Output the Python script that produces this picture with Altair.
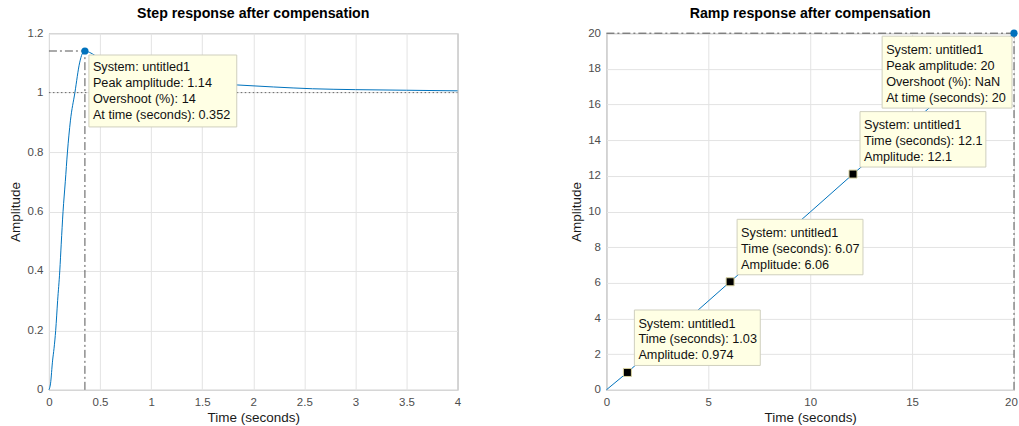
import altair as alt
import pandas as pd

FONT = "Liberation Sans"
BLUE = "#0072BD"
DASHDOT = [8, 3, 2, 3]

# ---------------- data ----------------
step_t = [0, 0.015, 0.036, 0.05, 0.066, 0.085, 0.106, 0.12, 0.138, 0.16, 0.181, 0.21,
          0.254, 0.30, 0.325, 0.352, 0.40, 0.45, 0.55, 0.7, 0.9, 1.1, 1.4, 1.83, 2.2,
          2.58, 3.0, 3.5, 4.0]
step_y = [0, 0.02, 0.10, 0.14, 0.20, 0.30, 0.40, 0.49, 0.60, 0.70, 0.80, 0.905,
          1.0, 1.10, 1.13, 1.14, 1.135, 1.125, 1.10, 1.07, 1.05, 1.04, 1.032, 1.026, 1.019,
          1.013, 1.010, 1.008, 1.006]

ramp_t = [0, 1.03, 2, 4, 6.07, 8, 10, 12.1, 14, 16, 18, 20]
ramp_y = [0, 0.974, 1.97, 3.97, 6.06, 7.97, 9.97, 12.1, 13.97, 15.97, 17.97, 20]

step_peak_t = [0.352]
step_peak_y = [1.14]
step_peak_text = ["System: untitled1\nPeak amplitude: 1.14\nOvershoot (%): 14\nAt time (seconds): 0.352"]
step_final = [1.0]

ramp_peak_t = [20]
ramp_peak_y = [20]
ramp_peak_text = ["System: untitled1\nPeak amplitude: 20\nOvershoot (%): NaN\nAt time (seconds): 20"]

tip_t = [1.03, 6.07, 12.1]
tip_y = [0.974, 6.06, 12.1]
tip_text = [
    "System: untitled1\nTime (seconds): 1.03\nAmplitude: 0.974",
    "System: untitled1\nTime (seconds): 6.07\nAmplitude: 6.06",
    "System: untitled1\nTime (seconds): 12.1\nAmplitude: 12.1",
]

step_xticks = [0, 0.5, 1, 1.5, 2, 2.5, 3, 3.5, 4]
step_yticks = [0, 0.2, 0.4, 0.6, 0.8, 1, 1.2]
ramp_xticks = [0, 5, 10, 15, 20]
ramp_yticks = [0, 2, 4, 6, 8, 10, 12, 14, 16, 18, 20]

# ---------------- helpers ----------------
def xaxis(vals, edge=None):
    kw = {}
    if edge is not None:
        kw["labelAlign"] = alt.condition(f"datum.value == {edge}", alt.value("right"), alt.value("center"))
        kw["labelOffset"] = alt.condition(f"datum.value == {edge}", alt.value(3.3), alt.value(0))
    return alt.Axis(values=vals, format="~g", title="Time (seconds)", grid=True,
                    ticks=False, domain=False, labelPadding=7, labelOverlap=False,
                    labelFlush=False, tickCount=len(vals),
                    titleY=31.5, titleBaseline="alphabetic", **kw)

def yaxis(vals, tx):
    return alt.Axis(values=vals, format="~g", title="Amplitude", grid=True,
                    ticks=False, domain=False, labelPadding=6, labelOverlap=False,
                    labelFlush=False, tickCount=len(vals),
                    titleX=tx, titleY=178.5, titleBaseline="alphabetic", titleAngle=270)

H = 357

def ttl(s):
    return alt.TitleParams(s, anchor="middle", frame="group", baseline="alphabetic",
                           offset=-5, fontSize=14.2, fontWeight="bold", font=FONT,
                           color="#000000")

def tiptext(dx, dy):
    return dict(font=FONT, fontSize=12.7, color="#111111", align="left", baseline="top",
                lineBreak="\n", lineHeight=16, dx=dx, dy=dy)

BOX = dict(fill="#FFFFE4", stroke="#CFCFBE", strokeWidth=1)

# ---------------- step chart ----------------
sdf = pd.DataFrame({"t": step_t, "y": step_y})
sxs = alt.Scale(domain=[0, 4], nice=False)
sys_ = alt.Scale(domain=[0, 1.2], nice=False)
sx = alt.X("t:Q", scale=sxs, axis=xaxis(step_xticks))
sy = alt.Y("y:Q", scale=sys_, axis=yaxis(step_yticks, -29))

step_line = alt.Chart(sdf).mark_line(color=BLUE, strokeWidth=1, interpolate="monotone").encode(x=sx, y=sy)

speak = pd.DataFrame({"t": step_peak_t, "y": step_peak_y, "t0": [0], "y0": [0], "txt": step_peak_text})
s_h = alt.Chart(speak).mark_rule(color="#555555", strokeWidth=1, strokeDash=DASHDOT).encode(
    x=alt.X("t0:Q", scale=sxs, axis=xaxis(step_xticks)), x2="t:Q", y=sy)
s_v = alt.Chart(speak).mark_rule(color="#555555", strokeWidth=1, strokeDash=DASHDOT).encode(
    x=sx, y=alt.Y("y0:Q", scale=sys_, axis=yaxis(step_yticks, -29)), y2="y:Q")
sfin = pd.DataFrame({"y": step_final, "a": [0], "b": [4]})
s_fin = alt.Chart(sfin).mark_rule(color="#666666", strokeWidth=1, strokeDash=[1.5, 2.5]).encode(
    x=alt.X("a:Q", scale=sxs, axis=xaxis(step_xticks)), x2="b:Q", y=sy)
s_dot = alt.Chart(speak).mark_circle(color=BLUE, size=52, opacity=1).encode(x=sx, y=sy)
s_box = alt.Chart(speak).mark_rect(xOffset=4, x2Offset=152, yOffset=4, y2Offset=76, **BOX).encode(
    x=sx, x2="t:Q", y=sy, y2="y:Q")
s_txt = alt.Chart(speak).mark_text(**tiptext(8, 10.3)).encode(x=sx, y=sy, text="txt:N")

left = alt.layer(step_line, s_fin, s_h, s_v, s_box, s_txt, s_dot).properties(
    width=409, height=H, title=ttl("Step response after compensation"))

# ---------------- ramp chart ----------------
rdf = pd.DataFrame({"t": ramp_t, "y": ramp_y})
rxs = alt.Scale(domain=[0, 20], nice=False)
rys = alt.Scale(domain=[0, 20], nice=False)
rx = alt.X("t:Q", scale=rxs, axis=xaxis(ramp_xticks, 20))
ry = alt.Y("y:Q", scale=rys, axis=yaxis(ramp_yticks, -26))

ramp_line = alt.Chart(rdf).mark_line(color=BLUE, strokeWidth=1).encode(x=rx, y=ry)

rpeak = pd.DataFrame({"t": ramp_peak_t, "y": ramp_peak_y, "t0": [0], "y0": [0], "txt": ramp_peak_text})
r_h = alt.Chart(rpeak).mark_rule(color="#555555", strokeWidth=1, strokeDash=DASHDOT).encode(
    x=alt.X("t0:Q", scale=rxs, axis=xaxis(ramp_xticks, 20)), x2="t:Q", y=ry)
r_v = alt.Chart(rpeak).mark_rule(color="#555555", strokeWidth=1, strokeDash=DASHDOT).encode(
    x=rx, y=alt.Y("y0:Q", scale=rys, axis=yaxis(ramp_yticks, -26)), y2="y:Q")
r_dot = alt.Chart(rpeak).mark_circle(color=BLUE, size=52, opacity=1).encode(x=rx, y=ry)
r_box = alt.Chart(rpeak).mark_rect(xOffset=-132, x2Offset=-2, yOffset=3, y2Offset=75, **BOX).encode(
    x=rx, x2="t:Q", y=ry, y2="y:Q")
r_txt = alt.Chart(rpeak).mark_text(**tiptext(-128, 10.5)).encode(x=rx, y=ry, text="txt:N")

tips = pd.DataFrame({"t": tip_t, "y": tip_y, "txt": tip_text})
t_box = alt.Chart(tips).mark_rect(xOffset=7, x2Offset=133, yOffset=-62.5, y2Offset=-7, **BOX).encode(
    x=rx, x2="t:Q", y=ry, y2="y:Q")
t_txt = alt.Chart(tips).mark_text(**tiptext(11, -55)).encode(x=rx, y=ry, text="txt:N")
t_sq = alt.Chart(tips).mark_square(color="#000000", size=64, opacity=1, stroke="#D8D3A0",
                                   strokeWidth=1).encode(x=rx, y=ry)

right = alt.layer(ramp_line, r_h, r_v, t_box, t_txt, t_sq, r_box, r_txt, r_dot).properties(
    width=408, height=H, title=ttl("Ramp response after compensation"))

chart = alt.hconcat(left, right, spacing=149, bounds="flush").properties(
    padding={"left": 8, "top": 6, "right": 0, "bottom": 0}
).configure_view(
    stroke="#8C8C8C", strokeWidth=1
).configure_axis(
    gridColor="#E3E3E3", gridWidth=1, labelFont=FONT, labelFontSize=11.5,
    labelColor="#4D4D4D", titleFont=FONT, titleFontSize=13.5, titleColor="#1A1A1A",
    titleFontWeight="normal"
)

chart.save("out.html", embed_options={"renderer": "svg", "actions": False})
